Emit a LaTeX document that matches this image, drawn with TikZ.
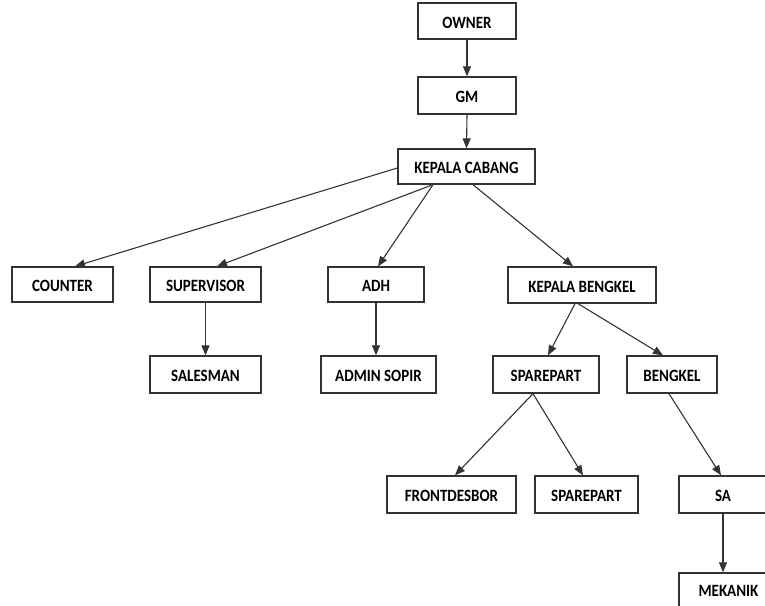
\documentclass[tikz,border=0pt]{standalone}
\usepackage{fontspec}
\setmainfont{Carlito}
\usetikzlibrary{arrows.meta}
\newcommand\bxt[1]{\scalebox{1}[1.15]{#1}}
\begin{document}
\begin{tikzpicture}[x=1pt,y=-1pt,
  box/.style={draw=black!80, line width=1.3pt, fill=white, rectangle, inner sep=0pt,
    text height=14pt, text depth=0pt,
    font=\fontsize{15}{18}\selectfont\bfseries, text=black},
  arr/.style={draw=black!80, line width=1.1pt, -{Triangle[length=10pt,width=8pt]}}]
\useasboundingbox (0,0) rectangle (765,605);
\node[box, minimum width=98pt, minimum height=36pt] (owner) at (467,21) {\bxt{OWNER}};
\node[box, minimum width=98pt, minimum height=37pt] (gm) at (467,95.5) {\bxt{GM}};
\node[box, minimum width=137pt, minimum height=35pt] (kc) at (466.5,166.5) {\bxt{KEPALA CABANG}};
\node[box, minimum width=101pt, minimum height=35pt] (counter) at (62.5,284.5) {\bxt{COUNTER}};
\node[box, minimum width=111pt, minimum height=35pt] (sup) at (205.5,284.5) {\bxt{SUPERVISOR}};
\node[box, minimum width=96pt, minimum height=35pt] (adh) at (376,284.5) {\bxt{ADH}};
\node[box, minimum width=148pt, minimum height=36pt] (kb) at (582,285) {\bxt{KEPALA BENGKEL}};
\node[box, minimum width=111pt, minimum height=37pt] (sales) at (205.5,374.5) {\bxt{SALESMAN}};
\node[box, minimum width=115pt, minimum height=37pt] (admin) at (378.5,374.5) {\bxt{ADMIN SOPIR}};
\node[box, minimum width=106pt, minimum height=37pt] (sp) at (546,374.5) {\bxt{SPAREPART}};
\node[box, minimum width=90pt, minimum height=37pt] (bengkel) at (672,374.5) {\bxt{BENGKEL}};
\node[box, minimum width=129pt, minimum height=37pt] (fd) at (451.5,494.5) {\bxt{FRONTDESBOR}};
\node[box, minimum width=103pt, minimum height=37pt] (sp2) at (586.5,494.5) {\bxt{SPAREPART}};
\node[box, minimum width=88pt, minimum height=37pt] (sa) at (723,494.5) {\bxt{SA}};
\node[box, minimum width=99pt, minimum height=37pt, text height=10pt] (mek) at (728.5,591.5) {\bxt{MEKANIK}};
\draw[arr] (owner.south) -- (gm.north);
\draw[arr] (gm.south) -- (kc.north);
\draw[arr] ([yshift=-1.5pt]kc.west) -- ([xshift=12.5pt]counter.north);
\draw[arr] ([xshift=-33.5pt]kc.south) -- ([xshift=11.5pt]sup.north);
\draw[arr] ([xshift=-33.5pt]kc.south) -- ([xshift=2pt]adh.north);
\draw[arr] ([xshift=6.5pt]kc.south) -- ([xshift=-9pt]kb.north);
\draw[arr] (sup.south) -- (sales.north);
\draw[arr] (adh.south) -- (adh.south |- admin.north);
\draw[arr] ([xshift=-7pt]kb.south) -- ([xshift=2pt]sp.north);
\draw[arr] ([xshift=-4pt]kb.south) -- ([xshift=-9pt]bengkel.north);
\draw[arr] ([xshift=-13pt]sp.south) -- ([xshift=3.5pt]fd.north);
\draw[arr] ([xshift=-13pt]sp.south) -- ([xshift=-3.5pt]sp2.north);
\draw[arr] ([xshift=-3pt]bengkel.south) -- ([xshift=-2pt]sa.north);
\draw[arr] (sa.south) -- (sa.south |- mek.north);
\end{tikzpicture}
\end{document}
